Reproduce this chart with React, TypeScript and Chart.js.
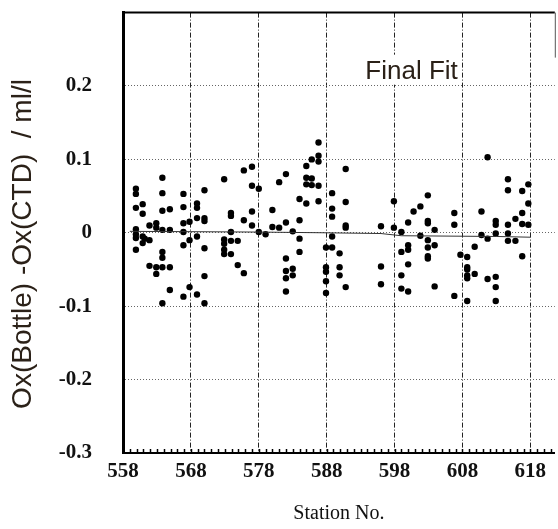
import React, { useEffect, useRef } from "react";
import { Chart, registerables } from "chart.js";

Chart.register(...registerables);

// Station numbers (x) and Ox(Bottle)-Ox(CTD) differences (y), grouped per station
const stationNo: number[] = [
  559.9, 559.9, 559.9, 559.9, 559.9, 559.9, 559.9,
  560.9, 560.9, 560.9, 560.9,
  561.2,
  561.9, 561.9, 561.9,
  562.9, 562.9, 562.9, 562.9,
  563.8, 563.8, 563.8, 563.8, 563.8, 563.8, 563.8, 563.8,
  564.9, 564.9, 564.9, 564.9,
  566.9, 566.9, 566.9, 566.9, 566.9, 566.9,
  567.8, 567.8, 567.8,
  568.9, 568.9, 568.9, 568.9, 568.9,
  570.0, 570.0, 570.0, 570.0, 570.0, 570.0,
  572.9, 572.9, 572.9, 572.9, 572.9,
  573.9, 573.9, 573.9, 573.9, 573.9,
  574.9, 574.9,
  575.8, 575.8, 575.8,
  577.0, 577.0, 577.0, 577.0,
  578.0, 578.0,
  579.0,
  580.0, 580.0,
  581.0, 581.0,
  582.0, 582.0, 582.0, 582.0, 582.0, 582.0,
  583.0, 583.0, 583.0,
  584.0, 584.0, 584.0, 584.0,
  585.0, 585.0, 585.0, 585.0,
  585.8, 585.8, 585.8,
  586.8, 586.8, 586.8, 586.8, 586.8,
  587.9, 587.9, 587.9, 587.9, 587.9,
  588.8, 588.8, 588.8, 588.8, 588.8,
  589.9, 589.9, 589.9,
  590.8, 590.8, 590.8, 590.8, 590.8,
  596.0, 596.0, 596.0,
  597.9, 597.9,
  599.0, 599.0, 599.0, 599.0,
  600.0, 600.0, 600.0, 600.0, 600.0,
  600.8,
  601.8, 601.8,
  602.9, 602.9, 602.9, 602.9, 602.9, 602.9, 602.9,
  603.9, 603.9, 603.9,
  606.8, 606.8, 606.8,
  607.7,
  608.7, 608.7, 608.7, 608.7, 608.7, 608.7,
  609.8, 609.8,
  610.8, 610.8,
  611.7, 611.7, 611.7,
  612.9, 612.9, 612.9, 612.9, 612.9, 612.9,
  614.7, 614.7, 614.7, 614.7, 614.7,
  615.8, 615.8,
  616.8, 616.8, 616.8, 616.8,
  617.7, 617.7, 617.7,
];

const oxDiff: number[] = [
  0.060, 0.053, 0.034, 0.005, -0.002, -0.007, -0.023,
  0.039, 0.026, -0.005, -0.014,
  -0.008,
  0.010, -0.010, -0.045,
  0.013, 0.007, -0.047, -0.056,
  0.075, 0.054, 0.030, 0.004, -0.026, -0.034, -0.047, -0.096,
  0.032, 0.004, -0.047, -0.078,
  0.053, 0.035, 0.013, 0.001, -0.017, -0.087,
  0.015, -0.010, -0.074,
  0.040, 0.034, 0.020, -0.005, -0.084,
  0.058, 0.020, 0.016, -0.021, -0.059, -0.096,
  0.073, -0.009, -0.015, -0.023, -0.029,
  0.027, 0.023, 0.001, -0.011, -0.029,
  -0.011, -0.044,
  0.085, 0.017, -0.055,
  0.090, 0.064, 0.029, 0.010,
  0.060, 0.001,
  -0.002,
  0.031, 0.008,
  0.069, 0.007,
  0.080, 0.014, -0.035, -0.052, -0.062, -0.080,
  0.002, -0.049, -0.058,
  0.046, 0.017, -0.008, -0.026,
  0.091, 0.075, 0.066, 0.040,
  0.100, 0.074, 0.065,
  0.123, 0.105, 0.097, 0.064, 0.043,
  -0.020, -0.047, -0.053, -0.066, -0.082,
  0.054, 0.033, 0.022, -0.005, -0.020,
  -0.028, -0.047, -0.058,
  0.087, 0.042, 0.010, 0.007, -0.074,
  0.009, -0.046, -0.070,
  0.043, 0.007,
  0.001, -0.026, -0.058, -0.076,
  0.014, -0.017, -0.023, -0.043, -0.080,
  0.029,
  0.036, -0.004,
  0.051, 0.016, 0.013, -0.010, -0.020, -0.032, -0.035,
  0.004, -0.017, -0.073,
  0.027, 0.011, -0.086,
  -0.030,
  -0.033, -0.047, -0.050, -0.058, -0.062, -0.093,
  -0.019, -0.056,
  0.029, -0.003,
  0.103, -0.008, -0.063,
  0.016, 0.011, -0.001, -0.060, -0.074, -0.093,
  0.073, 0.058, 0.011, -0.001, -0.011,
  0.019, -0.011,
  0.057, 0.027, 0.012, -0.032,
  0.066, 0.040, 0.011,
];

// Final fit line
const fitStations: number[] = [559, 578, 588, 596, 599, 613, 618];
const fitValues: number[] = [0.002, 0.001, 0.0, -0.001, -0.004, -0.005, -0.006];

// Axes
const xTickValues: number[] = [558, 568, 578, 588, 598, 608, 618];
const yTickValues: number[] = [-0.3, -0.2, -0.1, 0, 0.1, 0.2, 0.3];
const xMin = 558;
const xMax = 621.6;
const yMin = -0.3;
const yMax = 0.3;

const yTitle = "Ox(Bottle) -Ox(CTD)  / ml/l";
const xTitle = "Station No.";
const noteText = "Final Fit";
const noteStation = 600.5;
const noteValue = 0.21;

const SERIF = '"Liberation Serif", "Times New Roman", serif';
const SANS = '"Liberation Sans", Arial, sans-serif';

const decorPlugin = {
  id: "decor",
  afterDraw(chart: any) {
    const { ctx, chartArea } = chart;
    const { left, right, top, bottom } = chartArea;
    const xs = chart.scales.x;
    const ys = chart.scales.y;
    ctx.save();
    // minor ticks on the bottom axis, one per station
    ctx.strokeStyle = "#000";
    ctx.lineWidth = 1.5;
    for (let s = Math.ceil(xMin); s <= Math.floor(xMax); s++) {
      const px = Math.round(xs.getPixelForValue(s)) + 0.5;
      ctx.beginPath();
      ctx.moveTo(px, bottom);
      ctx.lineTo(px, bottom - 4);
      ctx.stroke();
    }
    // top frame
    ctx.lineWidth = 2;
    ctx.beginPath();
    ctx.moveTo(left, top);
    ctx.lineTo(right, top);
    ctx.stroke();
    // right frame (partially cut)
    ctx.strokeStyle = "#555";
    ctx.lineWidth = 1;
    ctx.beginPath();
    ctx.moveTo(right + 0.5, top);
    ctx.lineTo(right + 0.5, top + 45);
    ctx.stroke();

    // "Final Fit" annotation
    ctx.font = `26px ${SANS}`;
    const tx = xs.getPixelForValue(noteStation);
    const ty = ys.getPixelForValue(noteValue);
    const w = ctx.measureText(noteText).width;
    ctx.fillStyle = "#fff";
    ctx.fillRect(tx - w / 2 - 3, ty - 24, w + 6, 30);
    ctx.fillStyle = "#2b2118";
    ctx.textAlign = "center";
    ctx.textBaseline = "alphabetic";
    ctx.fillText(noteText, tx, ty);

    // y axis title
    ctx.translate(23, 244);
    ctx.rotate(-Math.PI / 2);
    ctx.font = `28px ${SANS}`;
    ctx.fillStyle = "#2b2118";
    ctx.textAlign = "center";
    ctx.textBaseline = "middle";
    ctx.fillText(yTitle, 0, 0);
    ctx.restore();
  },
};

export default function App() {
  const ref = useRef<HTMLCanvasElement>(null);

  useEffect(() => {
    if (!ref.current) return;
    const chart = new Chart(ref.current, {
      type: "scatter",
      data: {
        datasets: [
          {
            data: fitStations.map((s, i) => ({ x: s, y: fitValues[i] })),
            showLine: true,
            borderColor: "#333",
            borderWidth: 1,
            pointRadius: 0,
            fill: false,
          },
          {
            data: stationNo.map((s, i) => ({ x: s, y: oxDiff[i] })),
            backgroundColor: "#000",
            borderColor: "#000",
            borderWidth: 0,
            pointRadius: 3.2,
            pointHoverRadius: 3.2,
          },
        ],
      },
      options: {
        responsive: false,
        animation: false,
        events: [],
        layout: { padding: { top: 7, right: 1, left: 0, bottom: 0 } },
        plugins: {
          legend: { display: false },
          tooltip: { enabled: false },
        },
        scales: {
          x: {
            type: "linear",
            min: xMin,
            max: xMax,
            afterBuildTicks: (s: any) => {
              s.ticks = xTickValues.map((v) => ({ value: v }));
            },
            afterFit: (s: any) => {
              s.height = 76;
            },
            ticks: {
              autoSkip: false,
              maxRotation: 0,
              padding: 6,
              color: "#111",
              font: { family: SERIF, size: 21, weight: "bold" },
              callback: (v: any) => String(v),
            },
            grid: {
              drawTicks: false,
              lineWidth: 1,
              color: (c: any) =>
                c.tick && c.tick.value === xMin ? "rgba(0,0,0,0)" : "#222",
            },
            border: { display: true, color: "#000", width: 2, dash: [5, 2, 1, 2] },
            title: {
              display: true,
              text: xTitle,
              color: "#111",
              font: { family: SERIF, size: 20 },
              padding: { top: 0, bottom: 3 },
            },
          },
          y: {
            type: "linear",
            min: yMin,
            max: yMax,
            afterBuildTicks: (s: any) => {
              s.ticks = yTickValues.map((v) => ({ value: v }));
            },
            afterFit: (s: any) => {
              s.width = 123;
            },
            ticks: {
              padding: 0,
              color: "#111",
              font: { family: SERIF, size: 21, weight: "bold" },
              callback: (v: any) => {
                const n = Math.round(Number(v) * 10) / 10;
                if (n > 0.25) return "";
                return n === 0 ? "0" : n.toFixed(1);
              },
            },
            grid: {
              drawTicks: true,
              tickLength: 31,
              tickColor: "rgba(0,0,0,0)",
              lineWidth: 1,
              color: (c: any) =>
                c.tick && Math.abs(c.tick.value) > 0.25 ? "rgba(0,0,0,0)" : "#666",
            },
            border: { display: true, color: "#000", width: 3, dash: [1, 2] },
          },
        },
      },
      plugins: [decorPlugin],
    } as any);
    return () => chart.destroy();
  }, []);

  return (
    <div
      style={{
        position: "fixed",
        left: 0,
        top: 0,
        width: 558,
        height: 529,
        background: "#fff",
      }}
    >
      <canvas ref={ref} width={558} height={529} style={{ display: "block" }} />
    </div>
  );
}
